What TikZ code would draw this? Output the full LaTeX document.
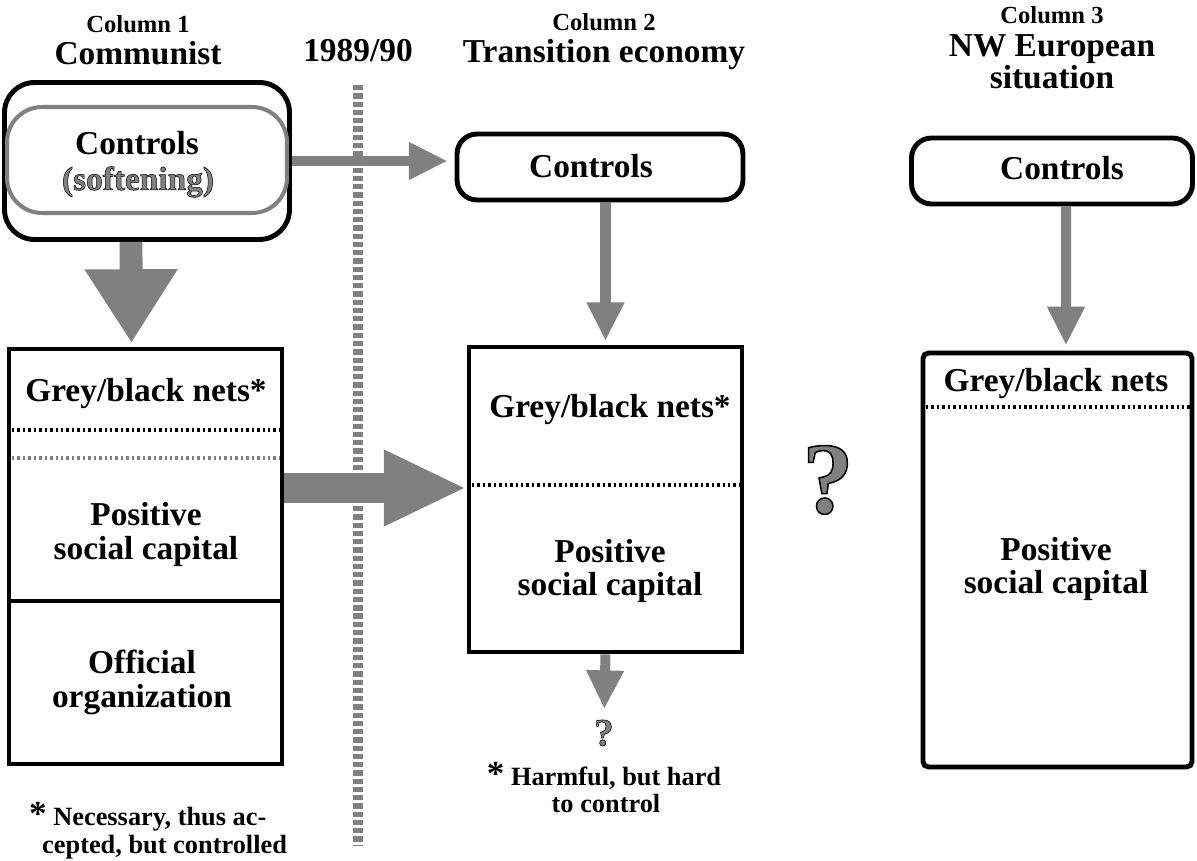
\documentclass[tikz,border=0pt]{standalone}
\usepackage{fontspec}
\setmainfont{Liberation Serif}
\newfontfamily\ringfont{Liberation Serif Bold}[FakeBold=1.5]
\usetikzlibrary{arrows.meta,positioning}
\newcommand\ringtext[1]{{\special{pdf:literal direct 0 G}#1}}

\begin{document}
\begin{tikzpicture}[x=0.02cm,y=-0.02cm,
    head/.style={font=\fontsize{14}{16}\selectfont\bfseries,anchor=base},
    word/.style={font=\fontsize{19}{21}\selectfont\bfseries,anchor=base},
    note/.style={font=\fontsize{15}{17}\selectfont\bfseries,anchor=base},
    ring/.style={font=\ringfont\fontsize{19}{21}\selectfont,text=gray,anchor=base},
    panel/.style={draw,line width=2.8pt,inner sep=0pt},
    ctl/.style={panel,rounded corners=0.4cm,minimum height=1.32cm},
    sep/.style={line width=2.8pt,dash pattern=on 1.4pt off 1.7pt},
    era/.style={draw=gray,line width=5.7pt,dash pattern=on 3pt off 1.7pt},
    flow/.style={draw=gray,line width=5.7pt,-{Triangle[length=22pt,width=20pt]}},
    bigflow/.style={flow,line width=13pt,-{Triangle[length=42pt,width=50pt]}},
    hugeflow/.style={flow,line width=17pt,-{Triangle[length=47pt,width=40pt]}}]
  \useasboundingbox (0,0) rectangle (1197,861);

  \node[head] (colA) at (138,33) {Column 1};
  \node[word] (titleA) at (138,65) {Communist};
  \node[word] (year) at (358,62) {1989/90};
  \node[head] (colB) at (604,31) {Column 2};
  \node[word] (titleB) at (604,63) {Transition economy};
  \node[head] (colC) at (1052,24) {Column 3};
  \node[word] (titleC) at (1052,57) {NW European};
  \node[word] (titleC2) at (1052,89) {situation};

  \draw[era] (358,85) -- (358,845);

  \node[panel,rounded corners=0.6cm,minimum width=5.7cm,minimum height=3.14cm] (ctlA) at (147,161) {};
  \node[draw=gray,line width=2.3pt,rounded corners=0.7cm,minimum width=5.6cm,minimum height=2.12cm,inner sep=0pt] (softA) at (147,160) {};
  \node[word] (ctlAtxt) at (137,155) {Controls};
  \node[ring] (softAtxt) at (138,190) {\ringtext{(softening)}};

  \node[ctl,minimum width=5.72cm] (ctlB) at (600,167) {};
  \node[word] (ctlBtxt) at (591,178) {Controls};
  \node[ctl,minimum width=5.62cm] (ctlC) at (1052,171) {};
  \node[word] (ctlCtxt) at (1062,180) {Controls};

  \node[panel,minimum width=5.46cm,minimum height=5.04cm] (netsA) at (145.5,475) {};
  \node[panel,minimum width=5.46cm,minimum height=3.26cm] (offA) at (145.5,682.5) {};
  \node[word] (netsAtxt) at (146,402) {Grey/black nets*};
  \draw[sep] (12,430) -- (280,430);
  \draw[sep,gray] (12,458) -- (280,458);
  \node[word] (posA) at (146,525) {Positive};
  \node[word] (posA2) at (146,559) {social capital};
  \node[word] (offAtxt) at (142,673) {Official};
  \node[word] (offAtxt2) at (142,707) {organization};

  \node[panel,minimum width=5.46cm,minimum height=6.1cm] (netsB) at (605.5,499.5) {};
  \node[word] (netsBtxt) at (610,418) {Grey/black nets*};
  \draw[sep] (472,485) -- (740,485);
  \node[word] (posB) at (610,562) {Positive};
  \node[word] (posB2) at (610,595) {social capital};

  \node[panel,rounded corners=3pt,minimum width=5.38cm,minimum height=8.28cm] (netsC) at (1057.5,560) {};
  \node[word] (netsCtxt) at (1056,392) {Grey/black nets};
  \draw[sep] (926,407) -- (1190,407);
  \node[word] (posC) at (1056,560) {Positive};
  \node[word] (posC2) at (1056,593) {social capital};

  \node[ring,font=\ringfont\fontsize{58}{60}\selectfont,anchor=center,inner sep=0pt] (doubt) at (828,480) {\ringtext{?}};
  \node[ring,font=\ringfont\fontsize{22}{24}\selectfont,anchor=center,inner sep=0pt] (qB) at (604,733) {\ringtext{?}};

  \node[note,anchor=base west] (noteA) at (23,825) {{\fontsize{20}{20}\selectfont*} Necessary, thus ac-};
  \node[note,anchor=base west] (noteA2) at (36,853) {cepted, but controlled};
  \node[note] (noteB) at (604,785) {{\fontsize{20}{20}\selectfont*} Harmful, but hard};
  \node[note] (noteB2) at (606,812) {to control};

  \draw[flow,shorten >=4pt] (ctlA.east) -- (ctlA.east -| ctlB.west);
  \draw[bigflow,shorten >=2pt] ([xshift=-0.32cm]ctlA.south) -- ([xshift=-0.28cm]netsA.north);
  \coordinate (handoff) at ([yshift=-0.26cm]netsA.east);
  \draw[hugeflow] (handoff) -- (handoff -| netsB.west);
  \draw[flow,shorten >=2pt] (ctlB.south -| netsB.north) -- (netsB.north);
  \draw[flow,shorten >=3pt] ([xshift=0.28cm]ctlC.south) -- ([xshift=0.17cm]netsC.north);
  \draw[flow,shorten >=6pt] (netsB.south) -- (qB.north);
\end{tikzpicture}
\end{document}
